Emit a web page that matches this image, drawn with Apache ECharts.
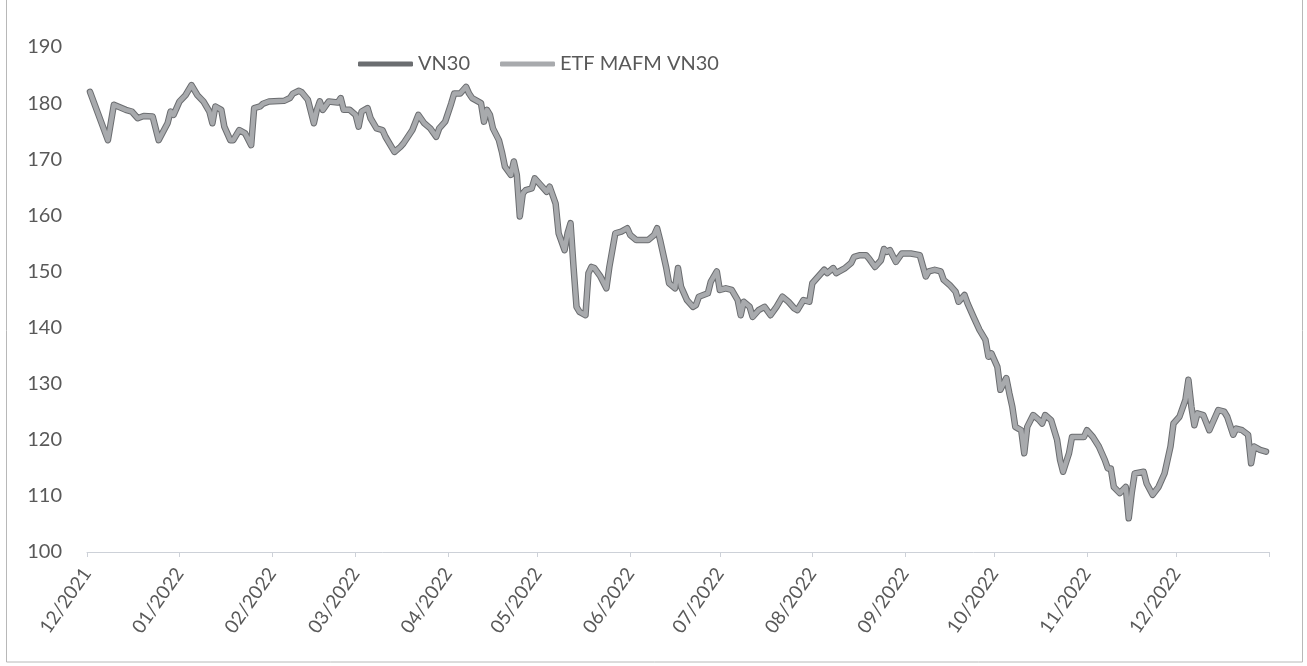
<!DOCTYPE html>
<html>
<head>
<meta charset="utf-8">
<script src="https://cdn.jsdelivr.net/npm/echarts@6/dist/echarts.min.js"></script>
<style>
  html, body { margin: 0; padding: 0; background: #ffffff; }
  #chart { width: 1307px; height: 666px; }
</style>
</head>
<body>
<div id="chart"></div>
<script>
// ---- data ----
const dates = [
  '2021-12-02','2021-12-08','2021-12-10','2021-12-14','2021-12-16','2021-12-18','2021-12-20','2021-12-23','2021-12-25','2021-12-28','2021-12-29','2021-12-30',
  '2022-01-01','2022-01-03','2022-01-05','2022-01-07','2022-01-09','2022-01-11','2022-01-12','2022-01-13','2022-01-15','2022-01-16','2022-01-18','2022-01-19','2022-01-21','2022-01-23','2022-01-25','2022-01-26','2022-01-28','2022-01-29','2022-01-31',
  '2022-02-05','2022-02-07','2022-02-08','2022-02-10','2022-02-11','2022-02-13','2022-02-15','2022-02-16','2022-02-17','2022-02-18','2022-02-20','2022-02-23','2022-02-24','2022-02-25','2022-02-27',
  '2022-03-01','2022-03-02','2022-03-03','2022-03-05','2022-03-06','2022-03-08','2022-03-10','2022-03-11','2022-03-14','2022-03-16','2022-03-17','2022-03-20','2022-03-22','2022-03-24','2022-03-26','2022-03-28','2022-03-29','2022-03-31',
  '2022-04-02','2022-04-03','2022-04-05','2022-04-07','2022-04-08','2022-04-09','2022-04-12','2022-04-13','2022-04-14','2022-04-15','2022-04-16','2022-04-18','2022-04-19','2022-04-20','2022-04-22','2022-04-23','2022-04-24','2022-04-25','2022-04-26','2022-04-27','2022-04-29','2022-04-30',
  '2022-05-02','2022-05-04','2022-05-05','2022-05-07','2022-05-08','2022-05-10','2022-05-11','2022-05-12','2022-05-13','2022-05-14','2022-05-15','2022-05-17','2022-05-18','2022-05-19','2022-05-20','2022-05-22','2022-05-24','2022-05-25','2022-05-26','2022-05-27','2022-05-29','2022-05-31',
  '2022-06-01','2022-06-03','2022-06-05','2022-06-07','2022-06-09','2022-06-10','2022-06-11','2022-06-13','2022-06-14','2022-06-16','2022-06-17','2022-06-18','2022-06-20','2022-06-22','2022-06-23','2022-06-24','2022-06-27','2022-06-28','2022-06-30',
  '2022-07-01','2022-07-03','2022-07-05','2022-07-07','2022-07-08','2022-07-09','2022-07-11','2022-07-12','2022-07-14','2022-07-16','2022-07-18','2022-07-20','2022-07-22','2022-07-24','2022-07-26','2022-07-27','2022-07-29','2022-07-31',
  '2022-08-01','2022-08-03','2022-08-05','2022-08-06','2022-08-08','2022-08-09','2022-08-10','2022-08-12','2022-08-14','2022-08-15','2022-08-17','2022-08-19','2022-08-20','2022-08-22','2022-08-24','2022-08-25','2022-08-26','2022-08-27','2022-08-29','2022-08-31',
  '2022-09-03','2022-09-06','2022-09-08','2022-09-09','2022-09-11','2022-09-13','2022-09-14','2022-09-16','2022-09-18','2022-09-19','2022-09-21','2022-09-22','2022-09-24','2022-09-26','2022-09-28','2022-09-29','2022-09-30',
  '2022-10-02','2022-10-03','2022-10-05','2022-10-06','2022-10-07','2022-10-08','2022-10-09','2022-10-10','2022-10-11','2022-10-12','2022-10-14','2022-10-16','2022-10-17','2022-10-18','2022-10-20','2022-10-22','2022-10-23','2022-10-24','2022-10-26','2022-10-27','2022-10-29','2022-10-31',
  '2022-11-01','2022-11-03','2022-11-05','2022-11-07','2022-11-08','2022-11-09','2022-11-10','2022-11-12','2022-11-14','2022-11-15','2022-11-16','2022-11-17','2022-11-20','2022-11-21','2022-11-23','2022-11-25','2022-11-27','2022-11-29','2022-11-30',
  '2022-12-02','2022-12-04','2022-12-05','2022-12-06','2022-12-07','2022-12-08','2022-12-10','2022-12-12','2022-12-14','2022-12-15','2022-12-17','2022-12-18','2022-12-20','2022-12-21','2022-12-23','2022-12-25','2022-12-26','2022-12-27','2022-12-29','2022-12-31'
];

const vn30Values = [
  182.0,173.4,179.7,178.8,178.5,177.3,177.7,177.6,173.4,176.4,178.5,177.9,
  180.3,181.4,183.2,181.4,180.3,178.5,176.4,179.4,178.8,175.8,173.4,173.4,175.2,174.6,172.5,179.1,179.4,179.9,180.3,
  180.4,180.9,181.7,182.2,181.9,180.6,176.4,178.8,180.3,178.8,180.3,180.1,180.9,178.8,178.8,
  177.9,175.8,178.5,179.1,177.3,175.5,175.2,174.0,171.3,172.2,172.8,175.2,177.9,176.4,175.5,174.0,175.5,176.7,
  179.9,181.7,181.7,182.9,181.7,180.9,180.0,176.7,178.8,177.9,175.5,173.4,171.3,168.7,167.2,169.6,167.2,159.8,163.9,164.5,164.8,166.6,
  165.4,164.2,165.1,162.1,156.8,153.8,156.8,158.6,150.8,143.7,142.8,142.2,149.7,150.8,150.6,149.1,147.0,150.8,153.8,156.8,157.1,157.7,
  156.5,155.6,155.6,155.6,156.5,157.7,155.6,150.8,147.9,147.0,150.6,147.3,144.9,143.7,144.0,145.5,146.1,148.2,150.0,
  146.7,147.0,146.7,144.9,142.2,144.6,143.7,141.9,143.1,143.7,142.2,143.7,145.5,144.6,143.4,143.1,144.9,144.6,
  147.9,149.1,150.3,149.7,150.6,149.7,150.0,150.6,151.5,152.6,152.9,152.9,152.3,150.8,152.0,154.0,153.5,153.8,151.7,153.2,
  153.2,152.9,149.1,150.0,150.3,150.0,148.5,147.6,146.4,144.6,145.8,144.3,141.9,139.6,137.8,134.8,135.4,
  133.0,128.9,131.0,128.3,125.9,122.3,122.0,121.7,117.6,122.3,124.4,123.5,122.9,124.4,123.5,120.0,116.4,114.3,117.6,120.5,120.5,120.5,
  121.7,120.5,118.8,116.4,114.9,114.9,111.6,110.5,111.6,106.0,110.5,114.0,114.3,112.2,110.2,111.6,114.0,118.8,122.9,
  124.1,127.1,130.7,125.9,122.6,124.7,124.4,121.7,124.1,125.3,125.0,124.1,120.9,122.0,121.7,120.9,115.8,118.8,118.2,117.9
];

// ETF MAFM VN30 tracks the index so closely that the two lines overlap in the picture
const etfValues = vn30Values.slice();

const seriesNames = ['VN30', 'ETF MAFM VN30'];
const monthTicks = ['2021-12-01','2022-01-01','2022-02-01','2022-03-01','2022-04-01','2022-05-01','2022-06-01',
  '2022-07-01','2022-08-01','2022-09-01','2022-10-01','2022-11-01','2022-12-01','2023-01-01'];
const tickLabels = ['12/2021','01/2022','02/2022','03/2022','04/2022','05/2022','06/2022',
  '07/2022','08/2022','09/2022','10/2022','11/2022','12/2022',''];
const yTicks = { min: 100, max: 190, interval: 10 };

// ---- chart ----
const toTime = s => echarts.time.parse(s).getTime();
const tickTimes = monthTicks.map(toTime);
const chart = echarts.init(document.getElementById('chart'), null, { renderer: 'canvas' });
const FONT = 'Lato';
const TEXT = '#595959';

function labelFor(value) {
  let best = 0, bd = Infinity;
  for (let i = 0; i < tickTimes.length; i++) {
    const d = Math.abs(tickTimes[i] - value);
    if (d < bd) { bd = d; best = i; }
  }
  return tickLabels[best];
}

const option = {
  backgroundColor: '#ffffff',
  animation: false,
  textStyle: { fontFamily: FONT },
  legend: {
    left: 353,
    top: 49,
    itemWidth: 55,
    itemHeight: 5,
    itemGap: 30,
    icon: 'roundRect',
    textStyle: { fontFamily: FONT, fontSize: 20, color: TEXT },
    data: seriesNames
  },
  grid: { left: 87, right: 38, top: 47, bottom: 114 },
  xAxis: {
    type: 'value',
    min: tickTimes[0],
    max: tickTimes[tickTimes.length - 1],
    splitLine: { show: false },
    axisLine: { show: true, lineStyle: { color: '#cdd1d8', width: 1 } },
    axisTick: { show: true, length: 5, lineStyle: { color: '#cdd1d8' }, customValues: tickTimes },
    axisLabel: {
      customValues: tickTimes.slice(0, tickTimes.length - 1),
      rotate: 55,
      margin: 18,
      fontFamily: FONT,
      fontSize: 19,
      color: TEXT,
      formatter: labelFor
    }
  },
  yAxis: {
    type: 'value',
    min: yTicks.min,
    max: yTicks.max,
    interval: yTicks.interval,
    splitLine: { show: false },
    axisLine: { show: false },
    axisTick: { show: false },
    axisLabel: { margin: 25, fontFamily: FONT, fontSize: 20, color: TEXT }
  },
  series: [
    {
      name: seriesNames[0],
      type: 'line',
      showSymbol: false,
      symbol: 'none',
      color: '#6b6d70',
      lineStyle: { width: 6.5, color: '#6b6d70', join: 'round', cap: 'round' },
      data: dates.map((d, i) => [toTime(d), vn30Values[i]])
    },
    {
      name: seriesNames[1],
      type: 'line',
      showSymbol: false,
      symbol: 'none',
      color: '#a8aaad',
      lineStyle: { width: 4.5, color: '#a8aaad', join: 'round', cap: 'round' },
      data: dates.map((d, i) => [toTime(d), etfValues[i]])
    }
  ],
  graphic: [
    {
      type: 'rect',
      silent: true,
      shape: { x: 6.5, y: -2, width: 1296, height: 664 },
      style: { fill: 'none', stroke: '#b8b8b8', lineWidth: 1 }
    }
  ]
};
chart.setOption(option);
</script>
</body>
</html>
